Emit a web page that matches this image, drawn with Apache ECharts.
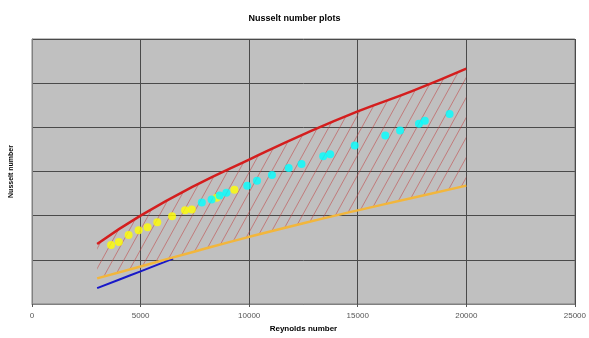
<!DOCTYPE html>
<html>
<head>
<meta charset="utf-8">
<script src="https://cdn.jsdelivr.net/npm/echarts@6/dist/echarts.min.js"></script>
<style>
  html, body { margin: 0; padding: 0; background: #fff; }
  #chart { width: 589px; height: 338px; }
</style>
</head>
<body>
<div id="chart"></div>
<script>
// Reynolds number grid shared by the upper and lower correlation curves
const reGrid = [ 3000, 5000, 7500, 10000, 12500, 15000, 17500, 20000 ];
const upperNu = [ 68, 100, 134, 163.5, 192, 218, 241, 266.5 ];
const lowerNu = [ 29, 42.5, 59.5, 76, 91.5, 106, 120, 134 ];

// short low-Re correlation
const blueRe = [ 3000, 4000, 5000, 6000, 6500 ];
const blueNu = [ 18, 27.5, 37, 46.5, 51.3 ];

// measured points
const yellowRe = [ 3640, 4000, 4450, 4910, 5320, 5770, 6450, 7050, 7360, 8500, 9320 ];
const yellowNu = [ 66.9, 70.3, 78.1, 83.6, 87, 92.6, 99.3, 106, 107, 120.4, 129.4 ];
const cyanRe = [ 7820, 8270, 8640, 8950, 9910, 10360, 11050, 11820, 12410, 13410, 13730, 14860, 16270, 16950, 17820, 18090, 19230 ];
const cyanNu = [ 114.9, 118.2, 122.7, 126, 133.8, 139.4, 146.1, 153.9, 158.4, 167.3, 169.5, 179.5, 190.7, 196.3, 204.1, 207.4, 215.2 ];

const xTicks = [ 0, 5000, 10000, 15000, 20000, 25000 ];

const pairs = ( xs, ys ) => xs.map( ( x, i ) => [ x, ys[ i ] ] );

/**
 * Hatched band between the lower and upper curves: a polygon built
 * through the axes, used as a clip for thin diagonal strokes.
 */
const renderBand = ( params, api ) => {
	const upper = reGrid.map( ( re, i ) => api.coord( [ re, upperNu[ i ] ] ) );
	const lower = reGrid.map( ( re, i ) => api.coord( [ re, lowerNu[ i ] ] ) ).reverse();
	const poly = upper.concat( lower );
	const xs = poly.map( ( p ) => p[ 0 ] );
	const ys = poly.map( ( p ) => p[ 1 ] );
	const x0 = Math.min( ...xs ), x1 = Math.max( ...xs );
	const y0 = Math.min( ...ys ), y1 = Math.max( ...ys );
	const step = 11;
	const lean = ( y1 - y0 ) * 0.55;
	const strokes = [];
	for ( let x = x0 - lean; x <= x1 + step; x += step ) {
		strokes.push( {
			type: 'line',
			shape: { x1: x, y1: y1, x2: x + lean, y2: y0 },
			style: { stroke: 'rgba(195,55,55,0.5)', lineWidth: 1 },
			silent: true
		} );
	}
	return {
		type: 'group',
		clipPath: { type: 'polygon', shape: { points: poly } },
		children: strokes
	};
};

const chart = echarts.init( document.getElementById( 'chart' ) );
const font = '"Liberation Sans", Arial, sans-serif';

chart.setOption( {
	animation: false,
	backgroundColor: '#fff',
	title: {
		text: 'Nusselt number plots',
		left: 'center',
		top: 9,
		textStyle: { fontFamily: font, fontSize: 9, fontWeight: 'bold', color: '#000' }
	},
	grid: {
		left: 30,
		right: 10,
		top: 39,
		bottom: 30,
		show: true,
		backgroundColor: '#c0c0c0',
		borderColor: '#808080',
		borderWidth: 1
	},
	xAxis: {
		type: 'value',
		min: xTicks[ 0 ],
		max: xTicks[ xTicks.length - 1 ],
		interval: 5000,
		name: 'Reynolds number',
		nameLocation: 'middle',
		nameGap: 21,
		nameTextStyle: { fontFamily: font, fontSize: 8, fontWeight: 'bold', color: '#000' },
		axisLine: { lineStyle: { color: '#808080' } },
		axisTick: { show: true, length: 3, lineStyle: { color: '#555' } },
		axisLabel: {
			fontFamily: font,
			fontSize: 8,
			color: '#555',
			margin: 8,
			formatter: ( v ) => String( v )
		},
		splitLine: { show: true, lineStyle: { color: '#4a4a4a', width: 1 } }
	},
	yAxis: {
		type: 'value',
		min: 0,
		max: 300,
		interval: 50,
		name: 'Nusselt number',
		nameLocation: 'middle',
		nameGap: 17,
		nameTextStyle: { fontFamily: font, fontSize: 7, fontWeight: 'bold', color: '#000' },
		axisLine: { show: true, lineStyle: { color: '#808080' } },
		axisTick: { show: false },
		axisLabel: { show: false },
		splitLine: { show: true, lineStyle: { color: '#4a4a4a', width: 1 } }
	},
	series: [
		{
			name: 'band',
			type: 'custom',
			renderItem: renderBand,
			data: [ [ reGrid[ 0 ], upperNu[ 0 ] ] ],
			silent: true,
			z: 1
		},
		{
			name: 'low Re',
			type: 'line',
			data: pairs( blueRe, blueNu ),
			symbol: 'none',
			smooth: true,
			lineStyle: { color: '#1818c8', width: 2 },
			z: 3
		},
		{
			name: 'lower',
			type: 'line',
			data: pairs( reGrid, lowerNu ),
			symbol: 'none',
			smooth: true,
			lineStyle: { color: '#f2b63c', width: 2.5 },
			z: 4
		},
		{
			name: 'upper',
			type: 'line',
			data: pairs( reGrid, upperNu ),
			symbol: 'none',
			smooth: true,
			lineStyle: { color: '#d41e1e', width: 2.5 },
			z: 4
		},
		{
			name: 'yellow',
			type: 'scatter',
			data: pairs( yellowRe, yellowNu ),
			symbol: 'circle',
			symbolSize: 8,
			itemStyle: { color: '#ffff00' },
			z: 5
		},
		{
			name: 'cyan',
			type: 'scatter',
			data: pairs( cyanRe, cyanNu ),
			symbol: 'circle',
			symbolSize: 8,
			itemStyle: { color: '#00ffff' },
			z: 5
		}
	]
} );
</script>
</body>
</html>
